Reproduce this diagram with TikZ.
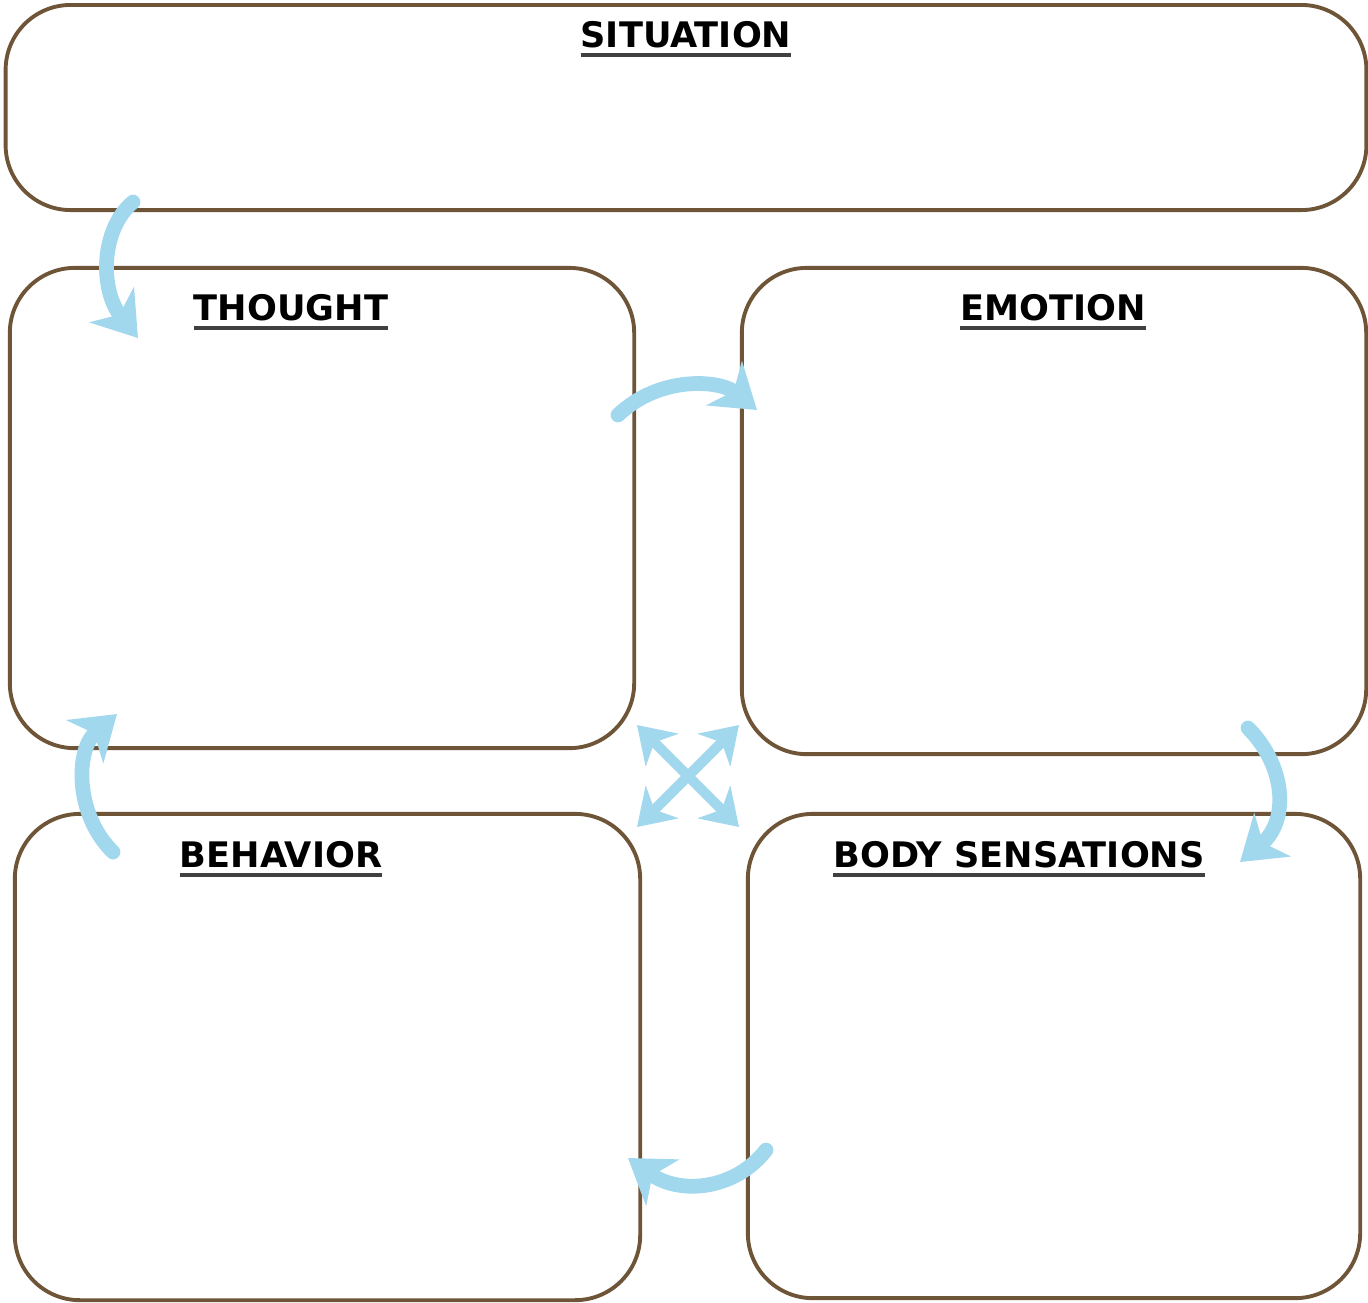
\documentclass[tikz,border=0pt]{standalone}
\usepackage{fontspec}
\usetikzlibrary{arrows.meta}
\newfontfamily\titlefont{DejaVu Sans}
\definecolor{boxbrown}{HTML}{6E5538}
\definecolor{arrowblue}{HTML}{A2D8EE}
\newcommand\titleline[1]{{\setbox0\hbox{#1}\rlap{\color{black!75}\rule[-2.6pt]{\wd0}{0.9pt}}\box0}}

\tikzset{
    box/.style={draw=boxbrown, line width=1.1pt, rounded corners=0.65cm, inner sep=0pt},
    title/.style={font=\titlefont\bfseries\fontsize{10}{12}\selectfont, inner sep=1pt},
    flow/.style={draw=arrowblue, line width=4.2pt, line cap=round,
        -{Stealth[length=12pt, width=16pt, inset=3.5pt]}},
    cross/.style={draw=arrowblue, line width=2.9pt,
        {Stealth[length=10pt, width=13pt, inset=3pt]}-{Stealth[length=10pt, width=13pt, inset=3pt]}}
}

\begin{document}
\begin{tikzpicture}[x=0.01cm, y=-0.01cm]
    \useasboundingbox (0,0) rectangle (1368,1302);

    % --- Boxes ---
    \node[box, minimum width=13.60cm, minimum height=2.05cm] (situation) at (686,107.5) {};
    \node[box, minimum width=6.24cm, minimum height=4.80cm] (thought) at (322,508) {};
    \node[box, minimum width=6.24cm, minimum height=4.86cm] (emotion) at (1054,511) {};
    \node[box, minimum width=6.25cm, minimum height=4.86cm] (behavior) at (327.5,1057) {};
    \node[box, minimum width=6.12cm, minimum height=4.84cm] (body) at (1054,1056) {};

    % --- Titles ---
    \node[title] (situationtitle) at (686,39) {\titleline{SITUATION}};
    \node[title] (thoughttitle) at (291,312) {\titleline{THOUGHT}};
    \node[title] (emotiontitle) at (1053,312) {\titleline{EMOTION}};
    \node[title] (behaviortitle) at (281,859) {\titleline{BEHAVIOR}};
    \node[title] (bodytitle) at (1019,859) {\titleline{BODY SENSATIONS}};

    % --- Arrow ends ---
    \coordinate (s1) at (133,202);  \coordinate (t1) at (138,338);
    \coordinate (s2) at (618,415);  \coordinate (t2) at (757,410);
    \coordinate (s3) at (1248,728); \coordinate (t3) at (1240,862);
    \coordinate (s4) at (766,1150); \coordinate (t4) at (628,1158);
    \coordinate (s5) at (113,852);  \coordinate (t5) at (117,714);
    \coordinate (xa) at (637,725);  \coordinate (xb) at (739,827);
    \coordinate (xc) at (739,725);  \coordinate (xd) at (637,827);

    % --- Curved arrows round the cycle ---
    \draw[flow] (s1) .. controls (100,230) and (100,290) .. (t1); % situation -> thought
    \draw[flow] (s2) .. controls (660,375) and (720,380) .. (t2); % thought -> emotion
    \draw[flow] (s3) .. controls (1285,765) and (1290,820) .. (t3); % emotion -> body
    \draw[flow] (s4) .. controls (735,1190) and (680,1195) .. (t4); % body -> behavior
    \draw[flow] (s5) .. controls (75,815) and (75,750) .. (t5);   % behavior -> thought

    % --- Cross in the middle ---
    \draw[cross] (xa) -- (xb);
    \draw[cross] (xc) -- (xd);

\end{tikzpicture}
\end{document}
